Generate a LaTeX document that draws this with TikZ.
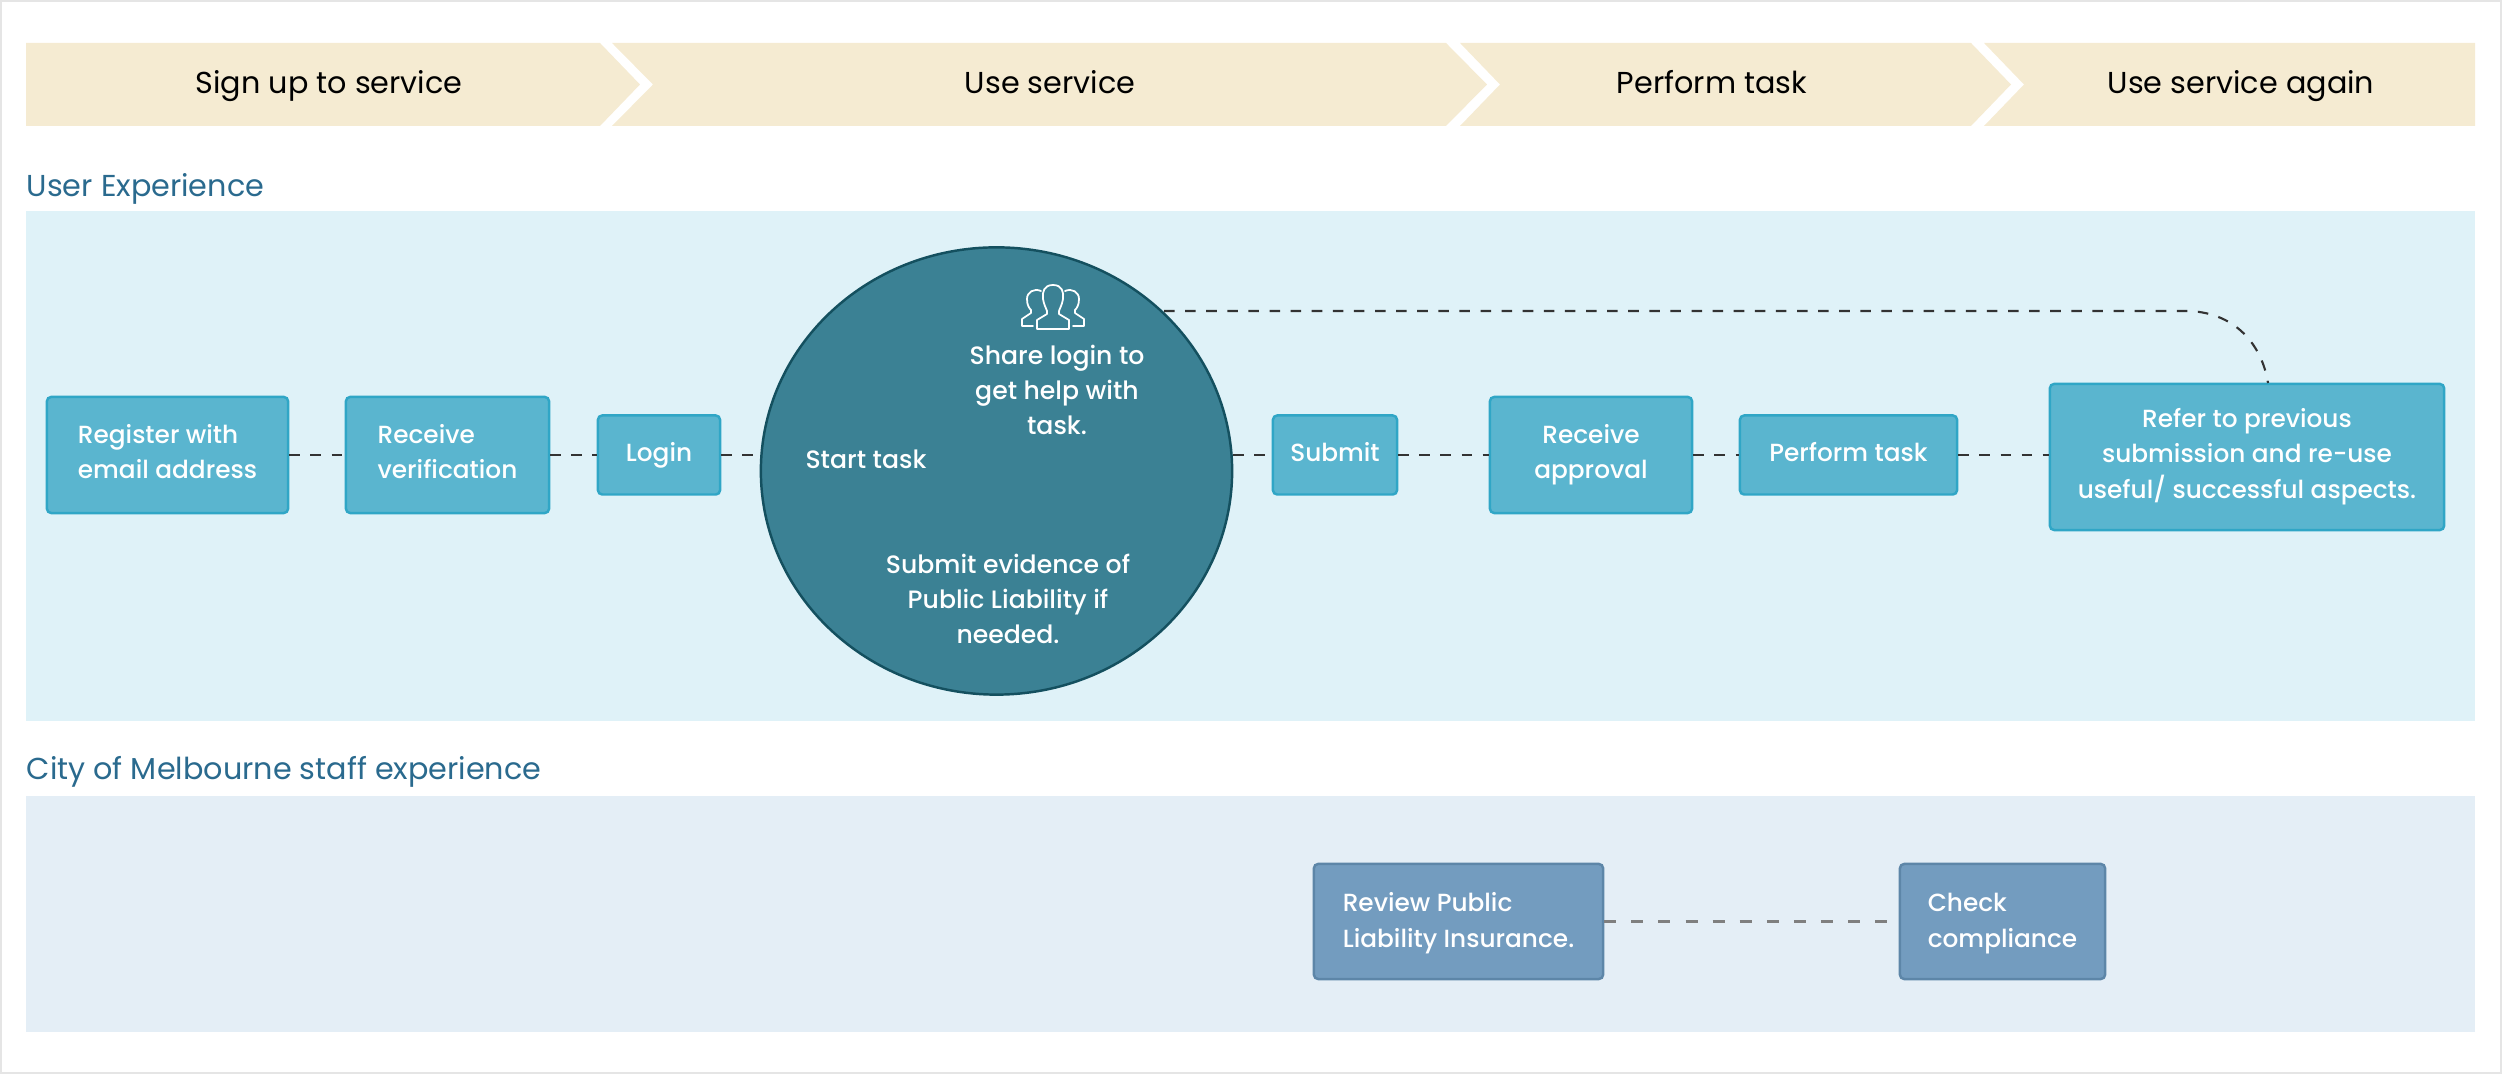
\documentclass[tikz,border=0pt]{standalone}
\usepackage{fontspec}
\setmainfont{Poppins}
\newfontfamily\medfont{Poppins Medium}
\usetikzlibrary{shapes.geometric}
\definecolor{bandc}{HTML}{F5EBD2}
\definecolor{panela}{HTML}{DFF2F8}
\definecolor{panelb}{HTML}{E4EEF6}
\definecolor{boxf}{HTML}{5AB5CF}
\definecolor{boxe}{HTML}{30A6C6}
\definecolor{stafff}{HTML}{739CBF}
\definecolor{staffe}{HTML}{5D86A8}
\definecolor{circf}{HTML}{3B8194}
\definecolor{circe}{HTML}{14505F}
\definecolor{titlec}{HTML}{2A6A8E}
\definecolor{dashc}{HTML}{333333}
\definecolor{dashg}{HTML}{7F7F7F}
\newcommand\tstrut{\rule{0pt}{7pt}}
\newcommand\bstrut[1]{\rule[-#1]{0pt}{#1}}
\tikzset{
  band/.style={fill=bandc,draw=none},
  bandlabel/.style={font=\fontsize{8.6}{11}\selectfont,text=black,inner sep=0pt,text height=7pt,text depth=2pt},
  sectiontitle/.style={font=\fontsize{8.6}{10}\selectfont,text=titlec,anchor=west,inner sep=0pt,text height=7pt,text depth=2pt},
  box/.style={rectangle,rounded corners=1.2pt,fill=boxf,draw=boxe,line width=0.7pt,text=white,inner sep=0pt,align=left,font=\medfont\fontsize{7.05}{10}\selectfont},
  staffbox/.style={box,fill=stafff,draw=staffe},
  circlabel/.style={text=white,inner sep=0pt,align=center,font=\medfont\fontsize{7.15}{10}\selectfont},
  link/.style={draw=dashc,line width=0.6pt,dash pattern=on 3pt off 3pt},
  stafflink/.style={draw=dashg,line width=0.6pt,dash pattern=on 3.4pt off 4.3pt},
  iconline/.style={draw=white,line width=0.5pt,line join=round,line cap=round}
}
\begin{document}
\begin{tikzpicture}[x=0.01cm,y=-0.01cm]
\useasboundingbox (0,0) rectangle (2502,1074);
\draw[draw=black!10,line width=0.6pt] (1,1) rectangle (2501,1073);
% bands
\fill[band] (26,43) -- (600,43) -- (640,84.5) -- (600,126) -- (26,126) -- cycle;
\fill[band] (612,43) -- (1446,43) -- (1487,84.5) -- (1446,126) -- (612,126) -- (653,84.5) -- cycle;
\fill[band] (1460,43) -- (1971,43) -- (2011,84.5) -- (1971,126) -- (1460,126) -- (1500,84.5) -- cycle;
\fill[band] (1984,43) -- (2475,43) -- (2475,126) -- (1984,126) -- (2024,84.5) -- cycle;
\node[bandlabel] (b1) at (329,85) {Sign up to service};
\node[bandlabel] (b2) at (1050,85) {Use service};
\node[bandlabel] (b3) at (1712,85) {Perform task};
\node[bandlabel] (b4) at (2241,85) {Use service again};
% panels
\node[sectiontitle] (t1) at (26,188) {User Experience};
\fill[panela] (26,211) rectangle (2475,721);
\node[sectiontitle] (t2) at (26,771) {City of Melbourne staff experience};
\fill[panelb] (26,796) rectangle (2475,1032);
% nodes
\node[box,minimum width=2.41cm,minimum height=1.16cm] (reg) at (167.5,455) {\tstrut Register with\\email address\bstrut{3.8pt}};
\node[box,minimum width=2.03cm,minimum height=1.16cm] (ver) at (447.5,455) {\tstrut Receive\\verification\bstrut{3.8pt}};
\node[box,minimum width=1.22cm,minimum height=0.79cm] (log) at (659,455) {\tstrut Login\bstrut{3.4pt}};
\node[ellipse,fill=circf,draw=circe,line width=0.7pt,minimum width=4.71cm,minimum height=4.47cm,inner sep=0pt] (circ) at (996.5,471) {};
\node[box,minimum width=1.24cm,minimum height=0.79cm] (sub) at (1335,455) {\tstrut Submit\bstrut{3.4pt}};
\node[box,align=center,minimum width=2.02cm,minimum height=1.16cm] (app) at (1591,455) {\tstrut Receive\\approval\bstrut{3.8pt}};
\node[box,minimum width=2.17cm,minimum height=0.79cm] (per) at (1848.5,455) {\tstrut Perform task\bstrut{3.4pt}};
\node[box,align=center,minimum width=3.94cm,minimum height=1.46cm] (ref) at (2247,457) {\tstrut Refer to previous\\submission and re-use\\useful/ successful aspects.\bstrut{3.6pt}};
\node[staffbox,minimum width=2.89cm,minimum height=1.15cm] (rev) at (1458.5,921.5) {\tstrut Review Public\\Liability Insurance.\bstrut{2.4pt}};
\node[staffbox,minimum width=2.05cm,minimum height=1.15cm] (chk) at (2002.5,921.5) {\tstrut Check\\compliance\bstrut{2.4pt}};
% circle labels
\node[circlabel] (c1) at (1057,390.5) {\tstrut Share login to\\get help with\\task.\bstrut{2pt}};
\node[circlabel] (c2) at (866,459.5) {\tstrut Start task\bstrut{2pt}};
\node[circlabel] (c3) at (1008,599.5) {\tstrut Submit evidence of\\Public Liability if\\needed.\bstrut{2pt}};
% icon
\draw[iconline] (1053,285) .. controls (1044,285) and (1042,292) .. (1043,299) .. controls (1044,305) and (1046,308) .. (1047,311) -- (1047,314) -- (1037,320) -- (1037,329) -- (1069,329) -- (1069,320) -- (1059,314) -- (1059,311) .. controls (1060,308) and (1062,305) .. (1063,299) .. controls (1064,292) and (1062,285) .. (1053,285) -- cycle;
\draw[iconline] (1041,291) .. controls (1034,288) and (1027,292) .. (1027,299) .. controls (1027,305) and (1029,308) .. (1031,310) -- (1031,313) -- (1022,319) -- (1022,326) -- (1033,326);
\draw[iconline] (1065,291) .. controls (1072,288) and (1079,292) .. (1079,299) .. controls (1079,305) and (1077,308) .. (1075,310) -- (1075,313) -- (1084,319) -- (1084,326) -- (1073,326);
% connectors
\coordinate (reftop) at (2268,383);
\coordinate (curvestart) at (1164,311);
\draw[link] (reg) -- (ver);
\draw[link] (ver) -- (log);
\draw[link] (log.east) -- (circ.west |- log.east);
\draw[link] (circ.east |- sub.west) -- (sub.west);
\draw[link] (sub) -- (app);
\draw[link] (app) -- (per);
\draw[link] (per.east) -- (ref.west |- per.east);
\draw[stafflink] (rev) -- (chk);
\draw[link] (curvestart) -- (2185,311) .. controls (2235,311) and (2262,345) .. (reftop);
\end{tikzpicture}
\end{document}
